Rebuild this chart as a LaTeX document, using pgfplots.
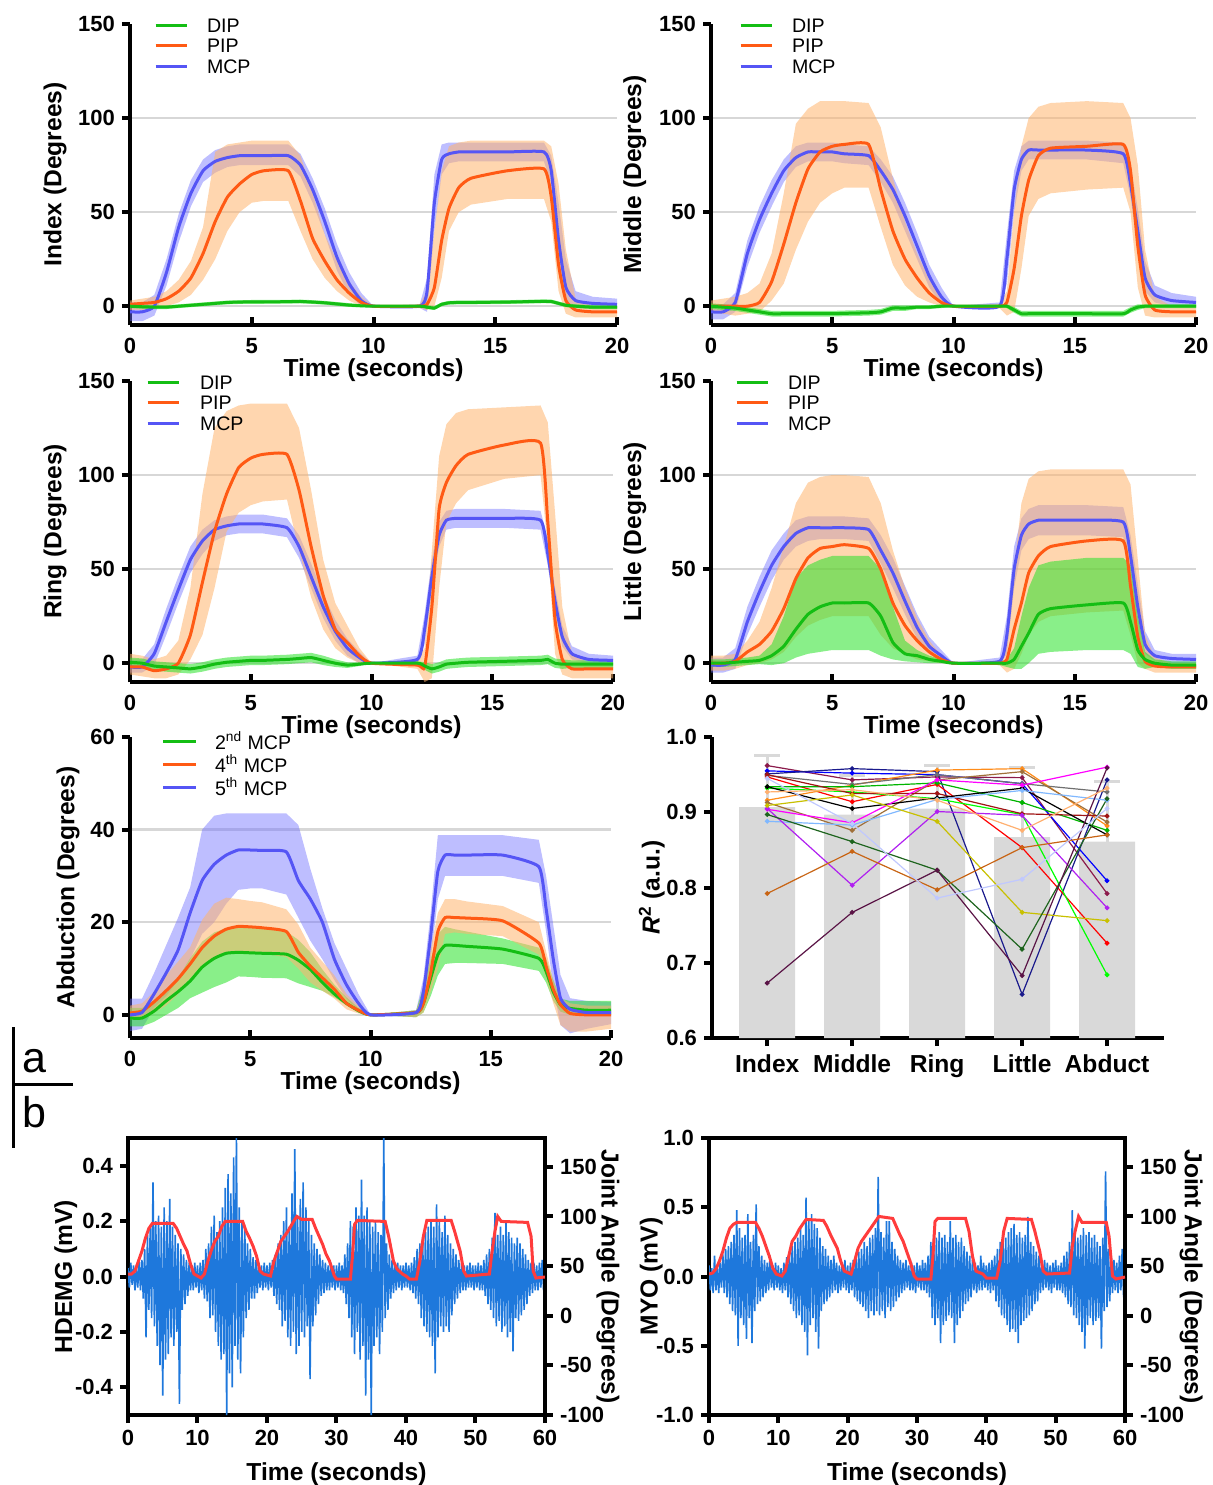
\documentclass[border=0pt]{standalone}
\usepackage{fontspec}
\setmainfont{Liberation Sans}
\usepackage{pgfplots}
\usepackage{pgfplotstable}
\pgfplotsset{compat=1.18}
\usepgfplotslibrary{fillbetween}

\definecolor{lineB}{RGB}{85,85,245}
\definecolor{lineO}{RGB}{255,90,20}
\definecolor{lineG}{RGB}{20,190,20}
\definecolor{bandB}{RGB}{110,110,255}
\definecolor{bandO}{RGB}{255,180,110}
\definecolor{bandG}{RGB}{40,225,40}
\definecolor{gridg}{RGB}{215,215,215}
\definecolor{emg}{RGB}{30,120,220}
\definecolor{ang}{RGB}{255,60,60}
\definecolor{barg}{RGB}{217,217,217}
\definecolor{c1}{RGB}{139,26,75}
\definecolor{c2}{RGB}{0,0,255}
\definecolor{c3}{RGB}{26,26,140}
\definecolor{c4}{RGB}{255,0,0}
\definecolor{c5}{RGB}{255,140,26}
\definecolor{c6}{RGB}{112,112,112}
\definecolor{c7}{RGB}{160,112,58}
\definecolor{c8}{RGB}{0,180,0}
\definecolor{c9}{RGB}{0,255,0}
\definecolor{c10}{RGB}{160,20,20}
\definecolor{c11}{RGB}{0,0,0}
\definecolor{c12}{RGB}{128,184,255}
\definecolor{c13}{RGB}{255,0,255}
\definecolor{c14}{RGB}{176,32,240}
\definecolor{c15}{RGB}{200,192,0}
\definecolor{c16}{RGB}{30,100,30}
\definecolor{c17}{RGB}{90,20,70}
\definecolor{c18}{RGB}{200,100,20}
\definecolor{c19}{RGB}{192,200,255}
\definecolor{c20}{RGB}{255,176,112}

\tikzset{bB/.style={fill=bandB, fill opacity=0.45}, bO/.style={fill=bandO, fill opacity=0.55}, bG/.style={fill=bandG, fill opacity=0.55}}

\newcommand{\band}[5]{%
  \addplot[draw=none, forget plot, name path=lo#5] table[x=t,y=#2]{#1};
  \addplot[draw=none, forget plot, name path=hi#5] table[x=t,y=#3]{#1};
  \addplot[#4, draw=none, forget plot] fill between[of=lo#5 and hi#5];
}
\newcommand{\mline}[3]{\addplot[#3, line width=1.5pt, forget plot, smooth, tension=0.3] table[x=t,y=#2]{#1};}

\pgfplotsset{
  base/.style={scale only axis, axis line style={line width=2pt}, tick style={line width=2pt, black}, major tick length=4pt, tick align=outside,
    tick label style={font=\fontsize{11}{13}\selectfont\bfseries}, label style={font=\fontsize{12.3}{14}\selectfont\bfseries}},
  panelA/.style={base, axis lines*=left, xmin=0, xmax=20, xtick={0,5,10,15,20}, xticklabels={0,5,10,15,20},
    xtick style={yshift=4pt}, xticklabel style={yshift=1pt},
    xlabel={Time (seconds)}, xlabel style={at={(axis description cs:0.5,-0.149)}, anchor=center},
    extra y tick labels={}, extra y tick style={grid=major, major tick length=0pt}, major grid style={gridg, line width=1.2pt},
    legend cell align=left,
    legend image code/.code={\draw[##1, line width=1.5pt] (0pt,1.6pt) -- (15.5pt,1.6pt);},
    legend style={at={(axis description cs:0,1)}, anchor=north west, draw=none, fill=none, inner sep=0pt, outer sep=0pt, row sep=0pt, column sep=9.5pt,
      font=\fontsize{9.8}{11}\selectfont, nodes={inner sep=0pt, text height=7pt, text depth=3.25pt}}},
  fingA/.style={panelA, ymin=-10, ymax=150, ytick={0,50,100,150}, yticklabels={0,50,100,150}, extra y ticks={0,50,100}}
}

\pgfplotstableread{
t dm dl dh pm pl ph mm ml mh
0 0 -1 1 1 -2 3 -3 -8 2
0.5 -0.3 -1.3 0.7 1.5 -2 4 -3 -8 2
1 -0.5 -1.5 0.5 2 -1 5 0 -5 6
1.5 -0.5 -1.5 0.5 4 0 8 18 11 25
2 0 -1 1 8 2 14 42 34 49
2.5 0.5 -0.5 1.5 15 6 24 60 53 67
3 1 0 2 28 14 42 72 66 78
3.5 1.5 0.5 2.5 45 25 82 77 71 83
4 2 1 3 58 40 86 79 74 85
4.5 2.2 1.2 3.2 65 50 87 80 75 86
5 2.3 1.3 3.3 70 55 88 80 75 86
5.5 2.3 1.3 3.3 72 56 88 80 75 86
6.5 2.4 1.4 3.4 72 56 88 80 75 86
7 2.5 1.5 3.5 56 40 80 75 69 81
7.5 2.2 1.2 3.2 36 25 60 62 55 68
8 1.8 0.8 2.8 24 15 38 45 38 52
8.5 1.2 0.2 2.2 14 8 24 26 19 33
9 0.6 -0.4 1.6 7 3 13 12 6 18
9.5 0.2 -0.5 0.9 2 0 5 3 0 7
10 0 0 0 0 0 0 0 0 0
11.9 0 -0.5 0.5 0 -1 1 0 -1 1
12.2 -0.5 -1.5 0.5 1 -2 8 8 -3 15
12.5 -1 -2 0 10 0 40 55 40 70
12.8 1 0 2 35 15 72 78 70 86
13.1 1.8 0.8 2.8 52 40 85 81 76 87
13.5 2 1 3 63 50 87 82 77 87
14 2 1 3 68 54 88 82 77 87
15.5 2.2 1.2 3.2 72 57 88 82 77 87
17 2.6 1.6 3.6 73 57 88 82 77 87
17.3 2.5 1.5 3.5 58 45 85 72 65 80
17.6 1.5 0.5 2.5 22 8 65 35 25 55
17.9 0.5 -0.5 1.5 3 -4 30 10 3 25
18.3 0 -1 1 -2 -6 4 3 -1 8
19 -0.5 -1.5 0.5 -3 -6 0 1.5 -1 5
20 -0.5 -1.5 0.5 -3 -6 0 1 -1 4
}\tabI

\pgfplotstableread{
t dm dl dh pm pl ph mm ml mh
0 0 -1.5 1.5 0 -3 3 -3 -7 1
0.5 -0.5 -2 1 0 -4 4 -3 -7 1
1 -1 -2.5 0.5 0 -5 5 2 -3 7
1.5 -2 -3.5 -0.5 0 -4 7 28 21 35
2 -3 -4.5 -1.5 2 -3 12 46 39 53
2.5 -4 -5.5 -2.5 13 3 28 60 53 67
3 -4 -5.5 -2.5 33 12 60 72 66 78
3.5 -4 -5.5 -2.5 55 30 97 79 74 85
4 -4 -5.5 -2.5 73 45 105 82 77 87
4.5 -4 -5.5 -2.5 82 55 109 82 77 87
5 -4 -5.5 -2.5 85 60 109 82 77 87
5.5 -3.8 -5.3 -2.3 86 63 109 81 76 86
6.5 -3.5 -5 -2 86 63 108 80 75 85
7 -3 -4.5 -1.5 62 42 95 72 66 78
7.5 -1 -2.5 0.5 40 22 68 62 55 69
8 -1 -2.5 0.5 25 11 45 48 40 55
8.5 -0.5 -1.5 0.5 15 5 28 32 25 39
9 -0.5 -1.5 0.5 7 2 14 16 10 22
9.5 0 -1 1 2 0 5 5 1 10
10 0 0 0 0 0 0 0 0 0
11.9 0 -0.5 0.5 0 -1 1 0 -1 2
12.2 0 -1 1 2 -5 8 25 12 38
12.5 -2 -3.5 -0.5 20 -3 50 62 50 72
12.8 -4 -5.5 -2.5 48 20 85 78 72 85
13.1 -4 -5.5 -2.5 67 48 100 83 78 88
13.5 -4 -5.5 -2.5 80 57 106 83 78 88
14 -4 -5.5 -2.5 84 60 108 83 78 88
15.5 -4 -5.5 -2.5 85 62 109 83 78 88
17 -4 -5.5 -2.5 86 63 108 81 76 87
17.3 -2 -3.5 -0.5 72 50 100 65 58 75
17.6 -0.5 -2 1 32 10 75 40 30 52
17.9 0 -1 1 6 -5 30 15 8 24
18.3 0 -1 1 -2 -6 5 6 2 11
19 0 -1 1 -3 -6 0 3 0 7
20 0 -1 1 -3 -6 0 2 0 5
}\tabM

\pgfplotstableread{
t dm dl dh pm pl ph mm ml mh
0 0.5 -2 3 -2 -6 5 -2 -5 2
0.5 0 -2.5 2.5 -2 -7 4 -2 -5 2
1 -1.5 -4 1 -4 -8 2 5 -1 10
1.5 -2 -4.5 0.5 -3 -8 4 22 15 29
2 -2.5 -5 0 0 -6 12 39 32 46
2.5 -3 -5.5 -0.5 15 2 40 55 48 62
3 -2 -4.5 0.5 43 15 90 65 58 71
3.5 -0.5 -3 2 70 40 125 71 65 76
4 0.5 -2 3 90 70 134 73 68 78
4.5 1 -1.5 3.5 104 80 137 74 69 79
5 1.5 -1 4 109 84 138 74 69 79
5.5 1.5 -1 4 111 86 138 74 69 79
6.5 2 -0.5 4.5 111 87 138 72 67 77
7 2.5 0 5 92 60 125 62 56 68
7.5 3 0.5 5.5 62 35 92 46 40 53
8 1.5 -1 4 36 18 55 30 24 37
8.5 0 -2 2 18 8 32 17 12 23
9 -1 -2.5 0.5 11 3 20 8 4 13
9.5 -0.5 -1.5 0.5 4 0 8 3 0 6
10 0 0 0 0 0 0 0 0 0
11.9 0 -1 1 -1 -3 2 2 0 4
12.2 -1.5 -3.5 0.5 -2 -10 8 18 10 26
12.5 -3 -5.5 -0.5 30 -8 60 46 38 55
12.8 -2 -4.5 0.5 82 40 110 68 62 75
13.1 -0.5 -3 2 96 75 127 76 71 81
13.5 0 -2.5 2.5 105 85 133 77 72 82
14 0.5 -2 3 111 92 135 77 72 82
15.5 1 -1.5 3.5 116 98 136 77 72 82
17 1.5 -1 4 117 100 137 76 71 81
17.3 2 -0.5 4.5 75 62 128 58 52 66
17.6 0 -2.5 2.5 23 5 80 33 27 40
17.9 -0.5 -3 2 2 -6 30 14 9 20
18.3 -0.5 -2.5 1.5 -3 -8 5 5 2 9
19 -0.5 -2.5 1.5 -3 -8 0 2 0 5
20 -0.5 -2.5 1.5 -3 -8 0 1.5 0 4
}\tabR

\pgfplotstableread{
t dm dl dh pm pl ph mm ml mh
0 0 -2 2 0 -4 4 -1 -5 3
0.5 0 -2 2 0 -4 4 -1 -5 3
1 0.5 -1.5 2.5 1 -3 5 2 -3 8
1.5 1 -1 3 6 -1 12 22 15 30
2 1.5 -0.5 4 10 0 22 38 30 46
2.5 4 -1 10 17 2 40 52 44 60
3 9 0 25 29 6 62 62 55 69
3.5 18 3 45 45 14 85 69 62 76
4 26 5 52 56 20 96 72 65 78
4.5 30 6 55 61 23 99 72 66 78
5 32 7 57 62 25 100 72 66 78
5.5 32 7 57 63 25 100 72 66 78
6.5 32 7 57 61 25 99 71 65 77
7 25 4 50 50 15 85 60 53 68
7.5 11 2 30 32 8 60 48 40 56
8 5 1 12 20 5 40 33 26 41
8.5 4 0.5 7 12 2 24 19 13 26
9 2 0 4 6 1 12 9 5 14
9.5 1 0 2 2 0 4 4 1 7
10 0 0 0 0 0 0 0 0 0
11.9 0 -1 1 0 -1 1 1 -1 3
12.2 0 -2 2 2 -5 10 15 5 25
12.5 2 -3 8 18 -3 50 50 40 62
12.8 9 -3 25 32 5 85 68 60 77
13.1 16 0 40 48 15 98 74 66 82
13.5 26 5 52 57 22 102 76 68 84
14 29 6 54 62 25 103 76 68 84
15.5 31 7 56 65 27 103 76 68 84
17 32 7 56 65 28 103 75 67 83
17.3 22 5 52 41 15 95 57 49 68
17.6 7 -2 25 14 0 55 30 22 42
17.9 2 -3 6 1 -3 15 10 5 17
18.3 0 -2 2 -1.5 -5 3 4 1 7
19 -1 -3 1 -2 -5 0 2.5 0 5
20 -1 -3 1 -2 -5 0 2 0 5
}\tabL

\pgfplotstableread{
t gm gl gh om ol oh bm bl bh
0 -0.7 -2.5 1.5 0.4 -1 2 0 -3.5 3.5
0.5 -0.7 -2.5 1.5 0.8 -1 2.5 0.5 -3 3.5
1 0.8 -1.5 3 2.8 0.5 5 4.5 1.5 9
1.5 3 0 5 5.2 2 8.5 9 4 15
2 5 1.5 8 7.8 4.5 11.5 14 7.5 21
2.5 7.3 3.6 12.2 11 7.9 14.6 22 12 27.5
3 10.3 4.8 15.8 14.5 10.5 20.5 29 17.5 40
3.5 12.2 6 17.8 17 12.3 24 32.5 20 43
4 13.3 7 18.7 18.5 13.5 25.3 34.5 24 43.5
4.5 13.5 8.3 19 19.1 13.5 25 35.6 27 43.5
5 13.4 8.2 18.8 19 13.3 24.6 35.6 27.3 43.5
5.5 13.3 8 18.6 18.8 13.2 24.3 35.5 27.3 43.5
6.5 13.1 7.9 18 18 12.5 22.8 35.2 26 43.5
7 11.8 6.8 16.2 13.5 10 19.5 29 21 41
7.5 9.8 6 13.5 10.5 7 14.5 25 16 31.5
8 7 5.2 9.8 8 5.2 11.5 20 12 23
8.5 4.5 3.8 6.5 5.5 3.5 8.5 12 7.5 15.5
9 2.5 2 3.8 2.5 1.2 4.5 6.5 3.5 10
9.5 0.9 0.5 1.5 1 0.3 2 2.5 1 4.5
10 0 0 0 0 0 0 0 0 0
11.9 0.5 -0.5 1 0.5 -0.5 1 0.5 -0.5 1
12.2 2.5 0.5 6 2.5 0.5 5 5 1 8
12.5 7.9 4 12 9 5 14 17 12 22
12.8 13 8.5 17.5 18 10 22 31 25 38.8
13.1 15 11 19 21 17.5 25 34.5 30 38.8
13.5 15 11.2 18.5 21 17.8 25 34.5 30 38.8
14 14.8 11.2 18 20.9 17.5 24.5 34.5 30 38.8
15.5 14.2 11 16.5 20.3 17 23.5 34.5 30 38.8
17 12.2 9.5 14.5 15.5 13 20 32 28.5 37.8
17.3 9.4 7 12.2 10.5 7.9 13.7 23 18 30
17.6 5 3 7.5 5.5 2.5 7.5 12 5.8 19.4
17.9 2.2 0.7 3.5 2.2 -2.2 3.6 3.6 -2.2 8.6
18.3 1.4 0 3 0.3 -3.6 2.5 1.2 -4 3.6
19 1 0 3 0 -3.6 2 0.5 -3 3
20 1 0 3 0 -3 2 0.5 -2 2.8
}\tabA

\pgfplotstableread{
x s1 s2 s3 s4 s5 s6 s7 s8 s9 s10 s11 s12 s13 s14 s15 s16 s17 s18 s19 s20
0 0.962 0.955 0.951 0.947 0.916 0.949 0.913 0.934 0.932 0.950 0.934 0.888 0.904 0.905 0.909 0.897 0.673 0.792 0.945 0.927
1 0.943 0.952 0.958 0.914 0.936 0.937 0.876 0.934 0.927 0.925 0.905 0.883 0.886 0.803 0.923 0.861 0.767 0.848 0.885 0.930
2 0.947 0.950 0.954 0.937 0.956 0.950 0.943 0.939 0.918 0.925 0.919 0.917 0.943 0.901 0.888 0.823 0.823 0.797 0.786 0.916
3 0.946 0.938 0.658 0.853 0.958 0.938 0.954 0.913 0.897 0.898 0.932 0.929 0.936 0.896 0.767 0.718 0.683 0.853 0.811 0.876
4 0.792 0.809 0.943 0.726 0.882 0.927 0.887 0.876 0.684 0.895 0.870 0.916 0.960 0.773 0.756 0.918 0.959 0.870 0.905 0.932
}\rtab

\pgfplotstableread{
x y e
0 0.907 0.069
1 0.897 0.052
2 0.905 0.057
3 0.867 0.093
4 0.861 0.080
}\bartab

\begin{document}
\begin{tikzpicture}

% ---------- Index
\begin{axis}[fingA, at={(65pt,-162.5pt)}, anchor=south west, width=243.5pt, height=150.5pt,
  ylabel={Index (Degrees)}, ylabel style={at={(axis description cs:-0.154,0.5)}, anchor=center},
  legend style={xshift=12pt, yshift=3pt}]
\addlegendimage{lineG}\addlegendentry{DIP}
\addlegendimage{lineO}\addlegendentry{PIP}
\addlegendimage{lineB}\addlegendentry{MCP}
\band{\tabI}{ml}{mh}{bB}{am}
\mline{\tabI}{mm}{lineB}
\band{\tabI}{pl}{ph}{bO}{ap}
\band{\tabI}{dl}{dh}{bG}{ad}
\mline{\tabI}{pm}{lineO}
\mline{\tabI}{dm}{lineG}
\end{axis}

% ---------- Middle
\begin{axis}[fingA, at={(355.5pt,-162.5pt)}, anchor=south west, width=242.5pt, height=150.5pt,
  ylabel={Middle (Degrees)}, ylabel style={at={(axis description cs:-0.157,0.5)}, anchor=center},
  legend style={xshift=14pt, yshift=3pt}]
\addlegendimage{lineG}\addlegendentry{DIP}
\addlegendimage{lineO}\addlegendentry{PIP}
\addlegendimage{lineB}\addlegendentry{MCP}
\band{\tabM}{ml}{mh}{bB}{bm}
\mline{\tabM}{mm}{lineB}
\band{\tabM}{pl}{ph}{bO}{bp}
\band{\tabM}{dl}{dh}{bG}{bd}
\mline{\tabM}{pm}{lineO}
\mline{\tabM}{dm}{lineG}
\end{axis}

% ---------- Ring
\begin{axis}[fingA, at={(65pt,-341pt)}, anchor=south west, width=241.5pt, height=150.5pt,
  ylabel={Ring (Degrees)}, ylabel style={at={(axis description cs:-0.155,0.5)}, anchor=center},
  legend style={xshift=8pt, yshift=3pt, column sep=10pt}]
\addlegendimage{lineG}\addlegendentry{DIP}
\addlegendimage{lineO}\addlegendentry{PIP}
\addlegendimage{lineB}\addlegendentry{MCP}
\band{\tabR}{ml}{mh}{bB}{cm}
\mline{\tabR}{mm}{lineB}
\band{\tabR}{pl}{ph}{bO}{cp}
\band{\tabR}{dl}{dh}{bG}{cd}
\mline{\tabR}{pm}{lineO}
\mline{\tabR}{dm}{lineG}
\end{axis}

% ---------- Little
\begin{axis}[fingA, at={(355.5pt,-341pt)}, anchor=south west, width=242.5pt, height=150.5pt,
  ylabel={Little (Degrees)}, ylabel style={at={(axis description cs:-0.157,0.5)}, anchor=center},
  legend style={xshift=12pt, yshift=3pt}]
\addlegendimage{lineG}\addlegendentry{DIP}
\addlegendimage{lineO}\addlegendentry{PIP}
\addlegendimage{lineB}\addlegendentry{MCP}
\band{\tabL}{ml}{mh}{bB}{dm}
\mline{\tabL}{mm}{lineB}
\band{\tabL}{pl}{ph}{bO}{dp}
\band{\tabL}{dl}{dh}{bG}{dd}
\mline{\tabL}{pm}{lineO}
\mline{\tabL}{dm}{lineG}
\end{axis}

% ---------- Abduction
\begin{axis}[panelA, at={(65pt,-519pt)}, anchor=south west, width=240.5pt, height=150.5pt,
  ymin=-5, ymax=60, ytick={0,20,40,60}, yticklabels={0,20,40,60}, extra y ticks={0,20,40},
  ylabel={Abduction (Degrees)}, ylabel style={at={(axis description cs:-0.129,0.5)}, anchor=center},
  legend image code/.code={\draw[#1, line width=1.5pt] (0pt,1.6pt) -- (16pt,1.6pt);},
  legend style={xshift=16pt, yshift=2pt, column sep=9pt, nodes={text height=8pt, text depth=3.5pt}}]
\addlegendimage{lineG}\addlegendentry{2\textsuperscript{nd} MCP}
\addlegendimage{lineO}\addlegendentry{4\textsuperscript{th} MCP}
\addlegendimage{lineB}\addlegendentry{5\textsuperscript{th} MCP}
\band{\tabA}{bl}{bh}{bB}{eb}
\band{\tabA}{gl}{gh}{bG}{eg}
\mline{\tabA}{gm}{lineG}
\band{\tabA}{ol}{oh}{bO}{eo}
\mline{\tabA}{om}{lineO}
\mline{\tabA}{bm}{lineB}
\end{axis}

% ---------- R^2
\begin{axis}[base, at={(356pt,-519pt)}, anchor=south west, width=226pt, height=150.5pt,
  axis lines*=left, xmin=-0.65, xmax=4.67, ymin=0.6, ymax=1.0,
  xtick={0,1,2,3,4}, xticklabels={Index,Middle,Ring,Little,Abduct},
  xticklabel style={font=\fontsize{12.3}{14}\selectfont\bfseries, yshift=-1pt},
  ytick={0.6,0.7,0.8,0.9,1.0}, yticklabels={0.6,0.7,0.8,0.9,1.0},
  ylabel={{\itshape R}\textsuperscript{2} (a.u.)}, ylabel style={at={(axis description cs:-0.133,0.5)}, anchor=center}]
\addplot[ybar, bar width=28pt, fill=barg, draw=none,
  error bars/.cd, y dir=plus, y explicit,
  error bar style={line width=1.5pt, barg},
  error mark options={rotate=90, mark size=6.5pt, line width=1.5pt, barg}]
  table[x=x, y=y, y error=e]{\bartab};
\pgfplotsinvokeforeach{1,...,20}{
  \addplot[color=c#1, line width=0.6pt, mark=*, mark size=0.9pt] table[x=x, y=s#1]{\rtab};
}
\end{axis}

% ---------- HDEMG
\begin{axis}[base, at={(64pt,-707.5pt)}, anchor=south west, width=208.5pt, height=138.5pt,
  xmin=0, xmax=60, ymin=-0.5, ymax=0.5, xtick pos=left, ytick pos=left,
  xtick={0,10,20,30,40,50,60}, xticklabels={0,10,20,30,40,50,60},
  ytick={-0.4,-0.2,0,0.2,0.4}, yticklabels={-0.4,-0.2,0.0,0.2,0.4},
  ylabel={HDEMG (mV)}, ylabel style={at={(axis description cs:-0.149,0.5)}, anchor=center},
  xlabel={Time (seconds)}, xlabel style={at={(axis description cs:0.5,-0.215)}, anchor=center}]
\addplot[emg, line width=0.8pt] coordinates {
(0,0.03)(0.2,-0.04)(0.4,0.05)(0.6,-0.03)(0.8,0.04)(1,-0.05)(1.2,0.03)(1.4,-0.04)(1.6,0.06)(1.8,-0.05)
(2,0.06)(2.2,-0.08)(2.4,0.10)(2.6,-0.22)(2.8,0.15)(3,-0.12)(3.2,0.18)(3.4,-0.15)(3.6,0.34)(3.8,-0.18)
(4,0.20)(4.2,-0.25)(4.4,0.22)(4.6,-0.32)(4.8,0.18)(5,-0.43)(5.2,0.25)(5.4,-0.30)(5.6,0.20)(5.8,-0.28)
(6,0.28)(6.2,-0.22)(6.4,0.18)(6.6,-0.25)(6.8,0.15)(7,-0.20)(7.2,0.12)(7.4,-0.46)(7.6,0.10)(7.8,-0.12)
(8,0.08)(8.2,-0.10)(8.4,0.06)(8.6,-0.07)(8.8,0.05)(9,-0.05)(9.2,0.04)(9.4,-0.05)(9.6,0.05)(9.8,-0.04)
(10,0.04)(10.2,-0.06)(10.4,0.05)(10.6,-0.05)(10.8,0.06)(11,-0.08)(11.2,0.10)(11.4,-0.09)(11.6,0.12)(11.8,-0.15)
(12,0.18)(12.2,-0.14)(12.4,0.22)(12.6,-0.20)(12.8,0.16)(13,-0.25)(13.2,0.20)(13.4,-0.30)(13.6,0.25)(13.8,-0.28)
(14,0.32)(14.2,-0.50)(14.4,0.37)(14.6,-0.35)(14.8,0.30)(15,-0.40)(15.2,0.43)(15.4,-0.25)(15.6,0.50)(15.8,-0.30)
(16,0.25)(16.2,-0.35)(16.4,0.20)(16.6,-0.22)(16.8,0.18)(17,-0.15)(17.2,0.12)(17.4,-0.12)(17.6,0.10)(17.8,-0.08)
(18,0.07)(18.2,-0.08)(18.4,0.06)(18.6,-0.06)(18.8,0.05)(19,-0.04)(19.2,0.04)(19.4,-0.05)(19.6,0.05)(19.8,-0.04)
(20,0.04)(20.2,-0.05)(20.4,0.05)(20.6,-0.04)(20.8,0.06)(21,-0.07)(21.2,0.08)(21.4,-0.10)(21.6,0.12)(21.8,-0.12)
(22,0.15)(22.2,-0.18)(22.4,0.20)(22.6,-0.16)(22.8,0.25)(23,-0.22)(23.2,0.18)(23.4,-0.25)(23.6,0.30)(23.8,-0.20)
(24,0.46)(24.2,-0.28)(24.4,0.22)(24.6,-0.25)(24.8,0.28)(25,-0.20)(25.2,0.34)(25.4,-0.22)(25.6,0.25)(25.8,-0.18)
(26,0.20)(26.2,-0.37)(26.4,0.15)(26.6,-0.18)(26.8,0.12)(27,-0.14)(27.2,0.10)(27.4,-0.10)(27.6,0.08)(27.8,-0.07)
(28,0.06)(28.2,-0.06)(28.4,0.05)(28.6,-0.05)(28.8,0.04)(29,-0.05)(29.2,0.05)(29.4,-0.04)(29.6,0.04)(29.8,-0.05)
(30,0.04)(30.2,-0.04)(30.4,0.05)(30.6,-0.05)(30.8,0.04)(31,-0.06)(31.2,0.08)(31.4,-0.10)(31.6,0.12)(31.8,-0.15)
(32,0.20)(32.2,-0.22)(32.4,0.18)(32.6,-0.28)(32.8,0.25)(33,-0.20)(33.2,0.22)(33.4,-0.30)(33.6,0.35)(33.8,-0.25)
(34,0.22)(34.2,-0.43)(34.4,0.25)(34.6,-0.30)(34.8,0.20)(35,-0.50)(35.2,0.18)(35.4,-0.25)(35.6,0.20)(35.8,-0.22)
(36,0.16)(36.2,-0.28)(36.4,0.15)(36.6,-0.20)(36.8,0.50)(37,-0.15)(37.2,0.12)(37.4,-0.12)(37.6,0.08)(37.8,-0.08)
(38,0.06)(38.2,-0.06)(38.4,0.05)(38.6,-0.05)(38.8,0.05)(39,-0.04)(39.2,0.04)(39.4,-0.05)(39.6,0.04)(39.8,-0.04)
(40,0.05)(40.2,-0.04)(40.4,0.04)(40.6,-0.05)(40.8,0.05)(41,-0.06)(41.2,0.07)(41.4,-0.08)(41.6,0.10)(41.8,-0.10)
(42,0.12)(42.2,-0.15)(42.4,0.14)(42.6,-0.18)(42.8,0.16)(43,-0.20)(43.2,0.18)(43.4,-0.22)(43.6,0.20)(43.8,-0.25)
(44,0.18)(44.2,-0.35)(44.4,0.26)(44.6,-0.22)(44.8,0.20)(45,-0.18)(45.2,0.16)(45.4,-0.20)(45.6,0.22)(45.8,-0.18)
(46,0.15)(46.2,-0.20)(46.4,0.12)(46.6,-0.14)(46.8,0.10)(47,-0.10)(47.2,0.08)(47.4,-0.08)(47.6,0.06)(47.8,-0.06)
(48,0.05)(48.2,-0.05)(48.4,0.04)(48.6,-0.05)(48.8,0.04)(49,-0.04)(49.2,0.05)(49.4,-0.04)(49.6,0.04)(49.8,-0.05)
(50,0.04)(50.2,-0.04)(50.4,0.05)(50.6,-0.05)(50.8,0.04)(51,-0.05)(51.2,0.06)(51.4,-0.07)(51.6,0.08)(51.8,-0.10)
(52,0.10)(52.2,-0.12)(52.4,0.14)(52.6,-0.15)(52.8,0.23)(53,-0.18)(53.2,0.15)(53.4,-0.16)(53.6,0.18)(53.8,-0.20)
(54,0.15)(54.2,-0.18)(54.4,0.20)(54.6,-0.22)(54.8,0.16)(55,-0.20)(55.2,0.14)(55.4,-0.27)(55.6,0.12)(55.8,-0.15)
(56,0.14)(56.2,-0.16)(56.4,0.12)(56.6,-0.14)(56.8,0.10)(57,-0.12)(57.2,0.08)(57.4,-0.10)(57.6,0.06)(57.8,-0.07)
(58,0.05)(58.2,-0.06)(58.4,0.05)(58.6,-0.05)(58.8,0.04)(59,-0.05)(59.2,0.05)(59.4,-0.04)(59.6,0.06)(59.8,-0.05)(60,0.04)
};
\end{axis}
\begin{axis}[base, at={(64pt,-707.5pt)}, anchor=south west, width=208.5pt, height=138.5pt,
  axis y line*=right, axis x line=none, xmin=0, xmax=60, ymin=-100, ymax=179,
  ytick={-100,-50,0,50,100,150}, yticklabels={-100,-50,0,50,100,150},
  ylabel={Joint Angle (Degrees)}, ylabel style={at={(axis description cs:1.151,0.5)}, anchor=center, rotate=180}]
\addplot[ang, line width=1.5pt] coordinates {
(0,42)(0.5,42)(1,45)(1.5,55)(2,65)(2.5,78)(3,88)(3.5,93)(4,93)(6.5,93)(7,88)(7.5,80)(8,72)(8.5,65)(9,52)(9.5,42)(10,40)(10.5,38)
(11,42)(11.5,55)(12,66)(12.5,75)(13,80)(13.5,90)(14,95)(16.5,95)(17,85)(17.5,78)(18,70)(18.5,60)(19,45)(19.5,42)(20,41)(20.5,40)
(21,55)(21.5,65)(22,75)(23,85)(24,97)(24.3,100)(25,97)(26.5,97)(27,88)(27.5,80)(28,72)(28.5,62)(29,55)(29.7,40)(30,37)(32,37)
(32.3,60)(32.6,92)(33,96)(37,95)(37.5,80)(38.2,55)(38.7,47)(39.5,42)(40,40)(40.5,37)(41.5,37)(42,55)(42.5,80)(43,96)(46.5,96)
(47,85)(47.8,65)(48.3,45)(48.7,40)(52,42)(52.3,60)(52.8,85)(53.2,100)(53.7,95)(57.5,94)(58,80)(58.3,45)(58.7,38)(60,39)
};
\end{axis}

% ---------- MYO
\begin{axis}[base, at={(354.5pt,-707.5pt)}, anchor=south west, width=208pt, height=138.5pt,
  xmin=0, xmax=60, ymin=-1, ymax=1, xtick pos=left, ytick pos=left,
  xtick={0,10,20,30,40,50,60}, xticklabels={0,10,20,30,40,50,60},
  ytick={-1,-0.5,0,0.5,1}, yticklabels={-1.0,-0.5,0.0,0.5,1.0},
  ylabel={MYO (mV)}, ylabel style={at={(axis description cs:-0.139,0.5)}, anchor=center},
  xlabel={Time (seconds)}, xlabel style={at={(axis description cs:0.5,-0.215)}, anchor=center}]
\addplot[emg, line width=0.8pt] coordinates {
(0,0.08)(0.2,-0.10)(0.4,0.06)(0.6,-0.12)(0.8,0.15)(1,-0.10)(1.2,0.08)(1.4,-0.12)(1.6,0.10)(1.8,-0.08)
(2,0.16)(2.2,-0.12)(2.4,0.20)(2.6,-0.15)(2.8,0.22)(3,-0.20)(3.2,0.25)(3.4,-0.25)(3.6,0.30)(3.8,-0.28)
(4,0.48)(4.2,-0.50)(4.4,0.35)(4.6,-0.30)(4.8,0.28)(5,-0.35)(5.2,0.30)(5.4,-0.45)(5.6,0.45)(5.8,-0.30)
(6,0.25)(6.2,-0.48)(6.4,0.30)(6.6,-0.25)(6.8,0.52)(7,-0.20)(7.2,0.22)(7.4,-0.18)(7.6,0.15)(7.8,-0.15)
(8,0.12)(8.2,-0.12)(8.4,0.10)(8.6,-0.10)(8.8,0.15)(9,-0.08)(9.2,0.08)(9.4,-0.10)(9.6,0.10)(9.8,-0.08)
(10,0.08)(10.2,-0.10)(10.4,0.06)(10.6,-0.12)(10.8,0.10)(11,-0.10)(11.2,0.14)(11.4,-0.15)(11.6,0.18)(11.8,-0.20)
(12,0.22)(12.2,-0.25)(12.4,0.25)(12.6,-0.30)(12.8,0.28)(13,-0.28)(13.2,0.35)(13.4,-0.35)(13.6,0.30)(13.8,-0.40)
(14,0.57)(14.2,-0.57)(14.4,0.40)(14.6,-0.35)(14.8,0.45)(15,-0.30)(15.2,0.38)(15.4,-0.40)(15.6,0.35)(15.8,-0.52)
(16,0.28)(16.2,-0.25)(16.4,0.22)(16.6,-0.20)(16.8,0.20)(17,-0.18)(17.2,0.15)(17.4,-0.15)(17.6,0.12)(17.8,-0.12)
(18,0.15)(18.2,-0.10)(18.4,0.10)(18.6,-0.12)(18.8,0.08)(19,-0.10)(19.2,0.10)(19.4,-0.08)(19.6,0.12)(19.8,-0.10)
(20,0.08)(20.2,-0.12)(20.4,0.10)(20.6,-0.10)(20.8,0.12)(21,-0.15)(21.2,0.15)(21.4,-0.18)(21.6,0.18)(21.8,-0.20)
(22,0.20)(22.2,-0.22)(22.4,0.25)(22.6,-0.25)(22.8,0.22)(23,-0.30)(23.2,0.28)(23.4,-0.25)(23.6,0.30)(23.8,-0.28)
(24,0.35)(24.2,-0.25)(24.4,0.72)(24.6,-0.28)(24.8,0.32)(25,-0.25)(25.2,0.28)(25.4,-0.30)(25.6,0.40)(25.8,-0.22)
(26,0.40)(26.2,-0.25)(26.4,0.25)(26.6,-0.22)(26.8,0.20)(27,-0.18)(27.2,0.15)(27.4,-0.15)(27.6,0.12)(27.8,-0.12)
(28,0.10)(28.2,-0.10)(28.4,0.12)(28.6,-0.08)(28.8,0.08)(29,-0.10)(29.2,0.10)(29.4,-0.10)(29.6,0.08)(29.8,-0.12)
(30,0.10)(30.2,-0.08)(30.4,0.08)(30.6,-0.10)(30.8,0.12)(31,-0.10)(31.2,0.10)(31.4,-0.12)(31.6,0.15)(31.8,-0.15)
(32,0.25)(32.2,-0.30)(32.4,0.30)(32.6,-0.35)(32.8,0.28)(33,-0.30)(33.2,0.32)(33.4,-0.48)(33.6,0.28)(33.8,-0.35)
(34,0.30)(34.2,-0.32)(34.4,0.25)(34.6,-0.28)(34.8,0.40)(35,-0.30)(35.2,0.28)(35.4,-0.48)(35.6,0.30)(35.8,-0.35)
(36,0.25)(36.2,-0.30)(36.4,0.28)(36.6,-0.25)(36.8,0.22)(37,-0.20)(37.2,0.18)(37.4,-0.18)(37.6,0.15)(37.8,-0.15)
(38,0.12)(38.2,-0.10)(38.4,0.10)(38.6,-0.12)(38.8,0.08)(39,-0.10)(39.2,0.15)(39.4,-0.10)(39.6,0.10)(39.8,-0.08)
(40,0.08)(40.2,-0.10)(40.4,0.10)(40.6,-0.12)(40.8,0.12)(41,-0.10)(41.2,0.15)(41.4,-0.18)(41.6,0.20)(41.8,-0.22)
(42,0.25)(42.2,-0.28)(42.4,0.30)(42.6,-0.30)(42.8,0.28)(43,-0.35)(43.2,0.32)(43.4,-0.40)(43.6,0.35)(43.8,-0.38)
(44,0.38)(44.2,-0.40)(44.4,0.30)(44.6,-0.48)(44.8,0.32)(45,-0.35)(45.2,0.28)(45.4,-0.32)(45.6,0.30)(45.8,-0.30)
(46,0.43)(46.2,-0.28)(46.4,0.25)(46.6,-0.25)(46.8,0.22)(47,-0.20)(47.2,0.18)(47.4,-0.18)(47.6,0.15)(47.8,-0.12)
(48,0.10)(48.2,-0.10)(48.4,0.12)(48.6,-0.08)(48.8,0.10)(49,-0.10)(49.2,0.08)(49.4,-0.12)(49.6,0.10)(49.8,-0.08)
(50,0.12)(50.2,-0.10)(50.4,0.08)(50.6,-0.10)(50.8,0.10)(51,-0.12)(51.2,0.15)(51.4,-0.15)(51.6,0.18)(51.8,-0.20)
(52,0.25)(52.2,-0.22)(52.4,0.48)(52.6,-0.28)(52.8,0.30)(53,-0.30)(53.2,0.28)(53.4,-0.35)(53.6,0.30)(53.8,-0.40)
(54,0.35)(54.2,-0.52)(54.4,0.30)(54.6,-0.35)(54.8,0.32)(55,-0.30)(55.2,0.28)(55.4,-0.35)(55.6,0.30)(55.8,-0.32)
(56,0.25)(56.2,-0.30)(56.4,0.22)(56.6,-0.52)(56.8,0.28)(57,-0.25)(57.2,0.76)(57.4,-0.22)(57.6,0.20)(57.8,-0.18)
(58,0.15)(58.2,-0.12)(58.4,0.12)(58.6,-0.10)(58.8,0.10)(59,-0.12)(59.2,0.15)(59.4,-0.10)(59.6,0.20)(59.8,-0.15)(60,0.10)
};
\end{axis}
\begin{axis}[base, at={(354.5pt,-707.5pt)}, anchor=south west, width=208pt, height=138.5pt,
  axis y line*=right, axis x line=none, xmin=0, xmax=60, ymin=-100, ymax=179,
  ytick={-100,-50,0,50,100,150}, yticklabels={-100,-50,0,50,100,150},
  ylabel={Joint Angle (Degrees)}, ylabel style={at={(axis description cs:1.159,0.5)}, anchor=center, rotate=180}]
\addplot[ang, line width=1.5pt] coordinates {
(0,42)(0.5,43)(1,47)(1.5,55)(2,65)(2.5,78)(3,88)(3.5,92)(4,94)(6.7,94)(7.2,88)(7.7,80)(8.2,70)(8.7,60)(9.2,48)(9.7,42)(10.5,40)
(11,45)(11.5,60)(12,75)(12.5,80)(13,87)(13.5,92)(14,97)(16.5,96)(17,90)(17.5,82)(18,75)(18.5,68)(19,55)(19.5,45)(20.5,42)
(21,55)(21.5,68)(22,75)(23,85)(24,95)(24.5,100)(26.5,98)(27,90)(27.5,82)(28,75)(28.5,65)(29,55)(29.6,40)(30,37)(32,37)
(32.3,60)(32.6,95)(33,98)(37,98)(37.5,85)(38,60)(38.5,45)(39.5,42)(40,38)(41.5,38)(42,55)(42.5,85)(43,98)(46.5,97)
(47,85)(47.7,65)(48.2,45)(48.7,42)(52,43)(52.4,70)(52.8,85)(53.3,100)(53.8,94)(57.3,94)(57.7,80)(58.2,40)(58.7,37)(60,39)
};
\end{axis}

% ---------- panel markers
\draw[line width=1.5pt] (6.5pt,-513.5pt) -- (6.5pt,-574pt);
\draw[line width=1.5pt] (6.5pt,-542pt) -- (36.5pt,-542pt);
\node[font=\fontsize{21.5}{24}\selectfont, anchor=base, inner sep=0pt] at (17pt,-536pt) {a};
\node[font=\fontsize{21.5}{24}\selectfont, anchor=base, inner sep=0pt] at (17pt,-563.5pt) {b};

\pgfresetboundingbox
\path[use as bounding box] (0pt,0pt) rectangle (606pt,-742.5pt);
\end{tikzpicture}
\end{document}
